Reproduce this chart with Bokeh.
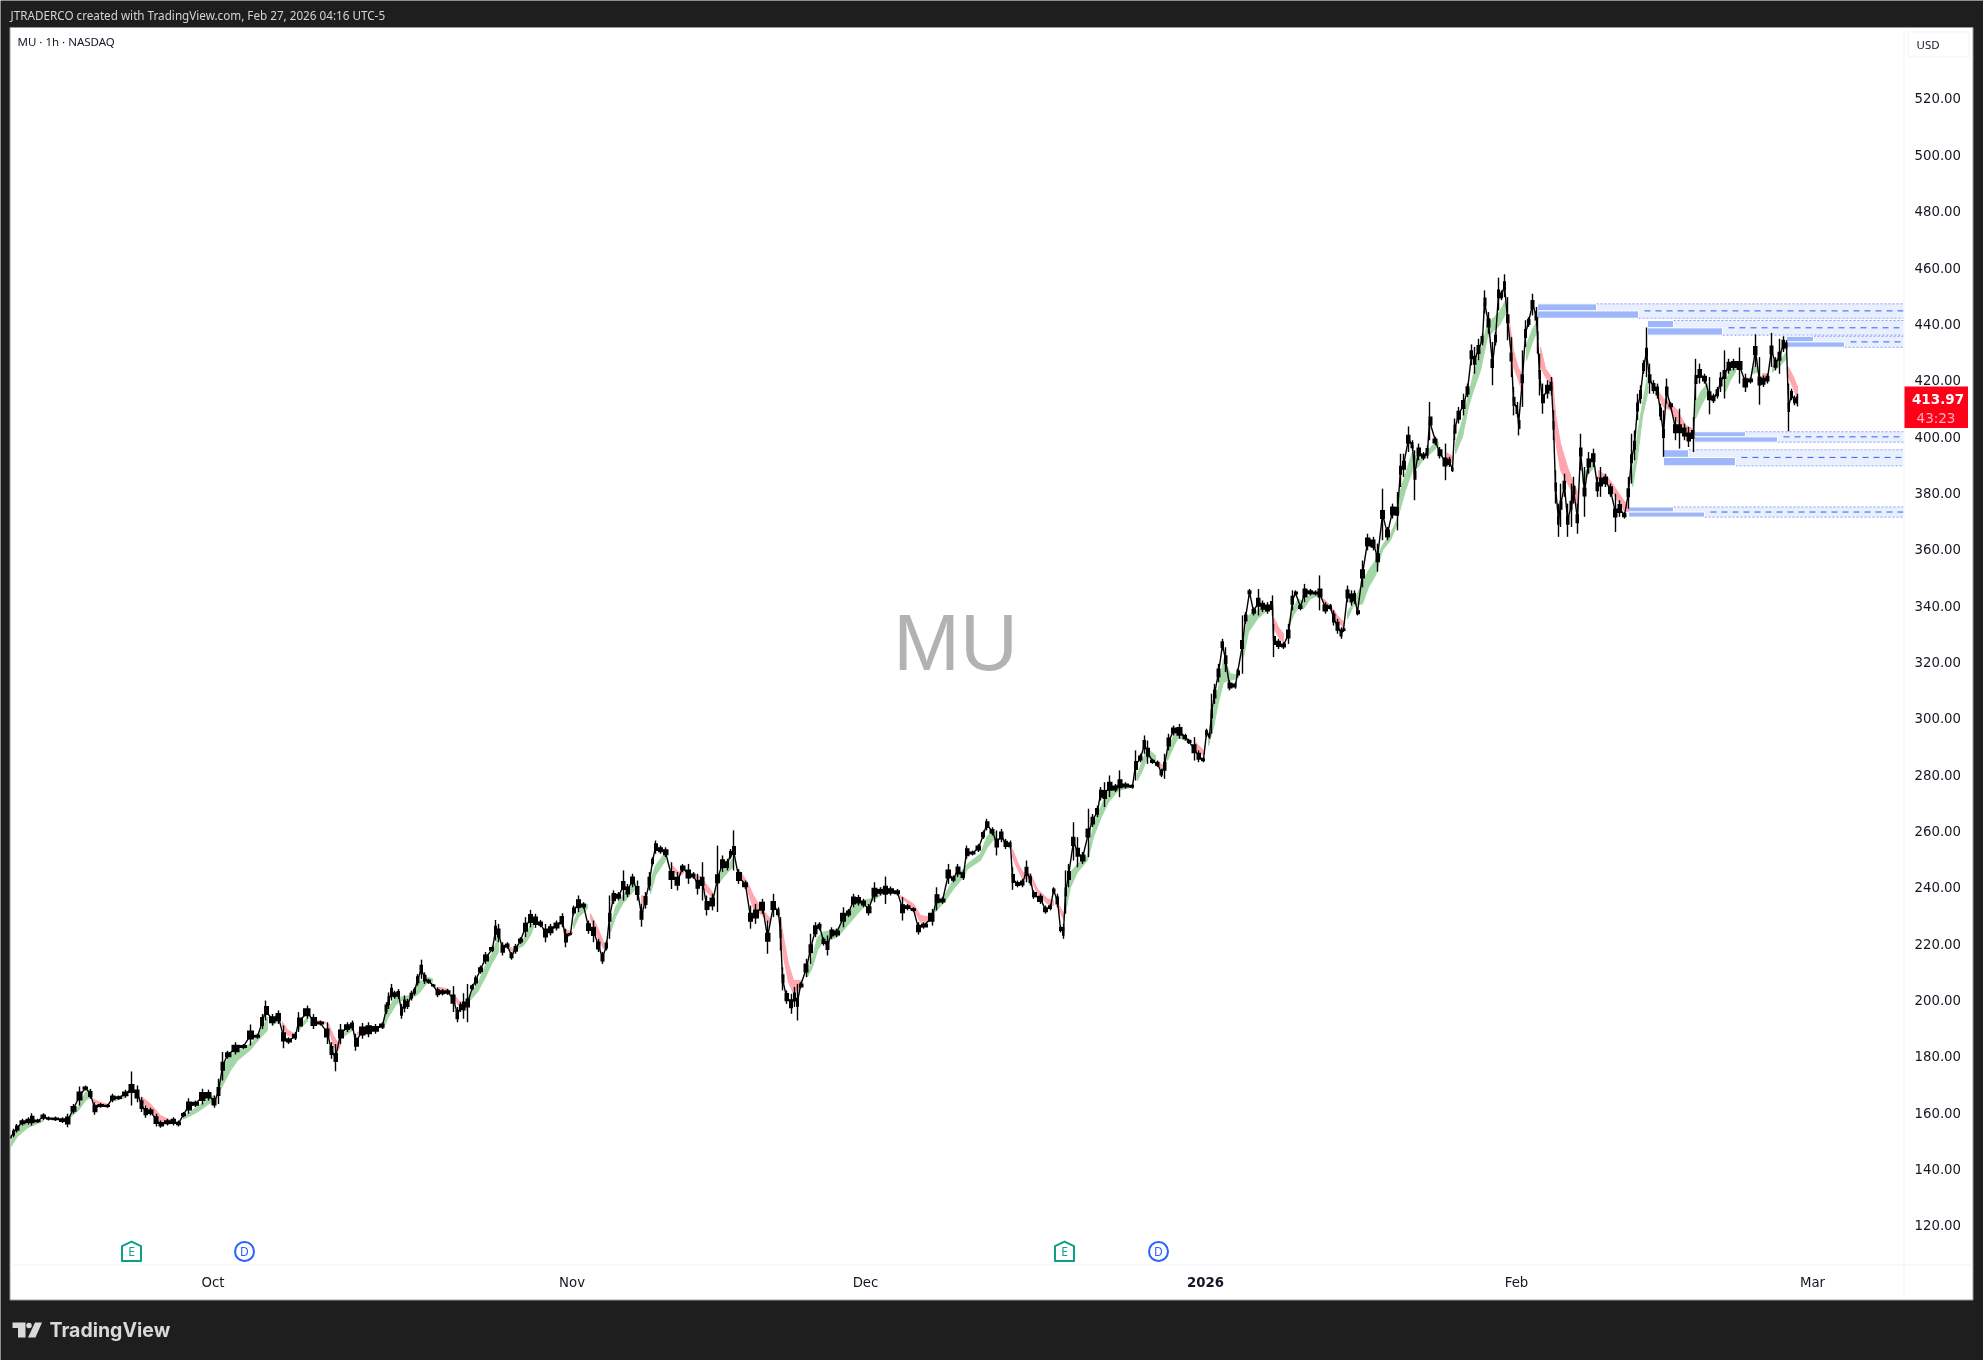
from bokeh.embed import file_html
from bokeh.resources import INLINE
from bokeh.plotting import figure
from bokeh.core.properties import value
from bokeh.models import FixedTicker, NumeralTickFormatter, Range1d

# ---- hourly session index / price envelope ----
bar = [0,3,6,12,18,21,27,33,38,45,52,57,63,69,75,80,84,90,97,102,108,115,121,127,131,135,140,146,150,157,163,168,173,178,185,192,198,204,208,212,217,225,233,240,247,252,255,262,268,273,278,285,288,297,303,310,317,321,325,330,337,342,345,352,358,365,372,
376,378,381,384,388,391,394,397,401,404,407,411,414,418,423,427,432,437,
443,447,450,453,457,462,465,470,475,482,485,488,492,497,501,505,510,515,520,525,530,535,540,546,552,555,560,563,568,573,578,583,588,592,596,599,603,608,613,617,622,627,631,635,639,642,645,650,655,661,667,672,678,683,687,692,696,702,707,712,717,720,723,728,735,740,745,752,757,
763,768,770,772,776,781,784,787,790,796,800,805,809,813,817,821,826,833,838,843,848,853,858,864,870,875,880,887,892,897,903,908,913,922,926,932,938,943,947,953,956,962,968,973,976,982,986,991,995,1000,1002,1007,1012,1016,1020,1023,1030,1035,1040,1043,1047,1050,1053,1055,1058,1063,1067,1072,1078,1082,1087,
1090,1094,1099,1105,1109,1115,1122,1125,1130,1134,1137,1142,1147,1151,1154,1158,1163,1169,1175,1178,1184,1188,1193,1196,1199,1201,1204,1208,1212,1215,1219,1225,1227,1232,1235,1239,1243,1248,1252,1257,1262,1263,1268,1273,1278,1282,1285,1290,1294,1300,1305,1309,1315,1320,1323,1327,1331,1333,1337,1341,1344,1347,1352,1357,1363,1367,
1372,1377,1382,1387,1390,1393,1398,1402,1404,1408,1413,1417,1419,1425,1429,1435,1439,1442,1444,1448,1453,1457,1461,1464,1468,1472,1474,1478,1482,1485,1488,1491,1494,1497,1501,1503,1507,1508,1512,1515,1518,1522,1526,1527,1529,1532,1537,1541,1543,1545,1548,1550,1554,1557,1561,1563,1567,1570,1574,1578,1583,1587,
1590,1595,1600,1605,1609,1614,1618,1621,1624,1627,1630,1633,1636,1639,1643,1647,1650,1653,1656,1660,1665,1669,1674,1678,1683,1685,1689,1694,1699,1703,1707,1710,1714,1718,1723,1729,1735,1740,1745,1749,1753,1757,1761,1765,1769,1773,1776,1778,1781,1784,1787]
high = [151.9,154.3,156,157.8,158.4,159.8,157.8,159.8,158.6,158.6,158.4,159.6,163.1,169.3,169.6,168.4,163.7,163.4,163.1,166.7,166.1,168.1,174.6,169.6,165.5,162.5,161.7,159.6,157.2,157.8,158.4,157.2,160.2,165.1,164.3,168.5,168.1,166.1,172,181.5,182,185,184.4,191.3,188,195,199.8,195,196.3,190.9,186.8,188.6,195.7,198,195,192.7,192.1,185,184.4,191.5,192.1,192.7,188,191.8,192.1,191.5,192.1,
199.2,202.7,205.7,203.3,203.9,198.6,201.6,200.4,203.3,204.5,209.2,214.3,209.8,207.5,205.7,204.5,203.9,203.9,
204.9,197.5,199.2,202.4,205.7,205.7,208.7,212.2,217,219.3,228.4,227,220.5,220.5,217,219.9,222.3,229.4,232,230.6,228.4,227,227,228.2,230.8,225.3,224,233.5,237.1,234.7,228.2,228.2,221.7,217,221.1,237.1,238.9,238.3,246,241.2,244.8,242.4,234.1,238.3,245.4,250.7,256.6,254.8,254.2,248.9,245.4,248.3,248.3,245.4,244.8,248.9,237.1,237.7,254.8,251.3,250.1,253.6,260.2,246.5,242.4,233.5,234.1,235.9,228.2,
237.7,232.9,229.4,211.6,203.4,202.2,204.6,205.7,206.3,214.6,223.5,227.6,227.6,222.3,222.9,225.8,225.3,232.9,232.3,237.7,237.3,235.9,234.1,241.8,240,243.8,240.3,239.4,236.5,234.1,232.9,227.6,227.6,232.3,240,236.5,248.3,244.2,248.3,246,254.8,253,255.4,260.2,264.3,261.3,260.2,260.7,257.2,256.6,247.1,242.4,243,249.5,244.8,238.9,237.7,233.5,234.1,240,237.7,226.4,227,246,248.3,263.1,257.8,252.5,267.9,266,269,
275.6,277.3,279.7,276.7,281.5,277.3,276.7,288.6,287.4,293.9,292.1,285.6,285,282.1,287.4,294.5,297.4,298,294.5,292.7,293.3,288.6,286.2,296.3,295.1,308.7,312.2,319.3,328.2,325.2,313.4,312.8,317.6,336.5,337.7,345.9,339.4,345.9,341.8,341.2,343.6,333.5,328.2,327,333.5,345.4,345.4,340.6,347.7,345.9,345.4,350.7,341.2,340.6,338.3,335.3,332.3,332.3,347.1,345.4,345.4,338.8,356,365.5,364.4,362,
381.5,367.9,376.2,380.3,393.9,393.9,403.6,398.7,395.1,397.5,394.5,396.9,412.3,399.9,396.3,397.5,392.8,389.2,406.4,410.5,415.2,418.8,432.7,431.8,434.7,436.5,451.9,444.2,433.6,437.1,456.4,451.9,457.6,449.5,435.3,417.6,412.3,408.1,430.6,441.3,442.4,450.7,446,442.4,429.4,418.8,420,421.1,409.3,388,376.2,383.3,386.8,376.2,383.3,385.7,376.2,401,389.2,394.5,395.7,385.7,
389.2,386.8,383.3,379.7,377.4,373.2,385.7,401,402.2,415.2,418.2,427.1,438.7,425.9,420,418.8,411.7,409.3,420.6,412.3,406.9,409.9,404.6,403.4,406.9,427.6,425.9,422.3,421.1,415.2,417.6,422.9,430.6,427.6,427.6,431.6,422.3,421.1,436.3,428.2,421.7,422.3,436.8,428.2,434.7,435.6,434.2,418.8,417,414.6,415.2]
low = [150.7,151.3,153,155.4,155.8,155.4,156.3,157.4,157.2,157,156.3,154.8,159.6,162.5,167.9,164.9,159.3,161.7,161.7,163.7,164.5,165.3,162.5,163.7,160.2,158.2,159,155.1,154.6,155.4,155.4,155.1,158.4,159.6,162,162.9,164.3,161.7,163.1,171.4,179.1,180.6,182.6,183.8,186.2,189.7,192.7,190.9,191.5,182.9,184.4,185.8,188.6,193.3,189.7,190.9,184.4,179.1,174.7,184.4,188.6,189.2,182,186.2,186.8,188,189.7,
195,196.8,199.8,200.4,200.4,193.3,195.6,196.8,199.8,201.6,205.1,207.5,205.7,205.7,204.5,201,201.6,201.8,
195.7,192.1,195.7,193.3,192.1,203.4,205.1,209.3,212.8,217,221.1,220.5,215.8,218.2,214.3,216.4,219.9,222.3,225.8,225.6,225.8,220.5,222.9,224.7,225.8,218.7,222.9,230,231.2,232.4,223.5,220.5,217,212.8,217.6,221.7,234.1,235.3,235.3,236.5,240,235.3,226,232.4,238.9,247.7,251.9,251.9,250.7,239.4,238.9,245.4,241.2,243,237.4,235.3,230,231.8,231.2,245.4,246,250.1,246,241.2,239.4,225.3,227,230.6,216.4,
229.4,229.4,217.6,203.4,198.6,195.1,197.5,192.7,204,208.1,212.8,222.3,224.7,219.3,215.8,221.7,222.3,225.8,229.4,232.9,233.5,232.9,230,234.7,237.1,234.1,237.1,237.1,228.2,231.8,231.2,223.2,225.3,226.4,231.8,234.1,241.2,241.8,243.6,242.6,250.1,251.3,252.5,257.2,260.2,258.4,251.3,256,253.6,253.6,239.1,240,240,241.8,240.6,235.9,234.1,230.6,231.8,237.7,232.9,224,221.7,230.6,240,249.5,247.1,248.3,250.7,261.4,264.9,
270.8,268.5,272,273.8,272,275,275,277.9,284.4,287.4,283.8,283.8,282.7,279.1,278.5,288.6,293.9,292.7,292.1,290.9,285,284.4,284.4,293.3,292.7,294.5,305.1,312.8,324.1,316.4,309.9,310.5,314.6,315.8,333.5,343.6,336.5,336.5,337.7,337.1,336.5,321.7,324.6,324.6,326.4,338.3,343.6,338.3,341.2,343.6,343.6,338.3,337.1,338.3,332.9,330,328.2,330.6,341.2,340,340.6,336.5,346.5,359.6,359.6,352,
363.2,363.2,370.9,366.7,382.1,385.7,394.5,395.1,377.4,391.6,391.6,392.2,398.7,396.9,392.2,384.5,389.2,387.4,398.7,404.6,407.5,414,425.3,422.3,427.1,432.4,443.6,436.5,418.2,432.4,444.8,448.4,449.5,434.2,421.1,407.5,406.9,400.4,410.5,431.8,438.9,443,439.5,429.4,414.6,408.1,413.5,414.6,398.7,376.2,364.4,367.9,378.6,364.4,367.9,376.2,365.5,388,371.5,386.8,389.2,378.6,
378.6,382.1,378.6,366.1,371.5,370.9,374.4,383.3,391.6,405.8,411.7,422.3,421.1,415.2,415.2,413.5,405.8,392.8,411.7,409.9,398.7,395.7,398.7,396.3,394.5,412.9,418.8,418.8,407.9,411.9,413.5,415.8,413.5,422.3,423.5,418.8,415.8,418.8,424.7,411.3,417.6,418.8,424.7,423.5,422.3,430,430.6,401.9,412.9,411.1,410.7]

# ---- EMA ribbon: (bars, upper edge, lower edge) per stretch ----
green_ribbon = [
 ([0,7,17,33],[149.5,154.8,156.6,157.4],[147.7,151.5,154.6,157]),
 ([58,68,75,80],[158.4,162.2,167.3,168.4],[157.8,160.8,164.3,165.5]),
 ([105,115],[165.3,166.3],[164.3,165.3]),
 ([173,187,203],[158.4,162.2,166.1],[157.7,160.2,164.3]),
 ([208,213,220,227,240,248,257],[168.5,176.7,180.3,182,184.4,187.4,193.9],[166.7,170.2,175,178.5,182.3,185.8,189.2]),
 ([262,268],[192.1,193.9],[190.9,192.5]),
 ([288,297],[190.3,193.9],[189.2,192.5]),
 ([333,342],[188,191.3],[187,189.2]),
 ([373,377,385,390,400,408,417,422],[192.1,196.8,201,201,201.6,206.3,208.1,207.5],[189.7,193.3,198,199.8,200.4,202.1,206.3,206.3]),
 ([458,467,475,482,488],[201,205.7,212.2,217,222.9],[199.2,202.8,208.1,213.4,217]),
 ([507,513,520,523],[218.9,221.7,226.4,227.6],[218.2,219.3,222.9,225.8]),
 ([563,568,577],[227.6,231.8,234.1],[225.3,229.4,232.4]),
 ([600,605,612,625],[225.8,232.9,237.1,241.8],[224,229.4,234.1,239.4]),
 ([640,645,655],[242.4,247.7,252.5],[237.7,244.2,249.5]),
 ([708,713,722],[244.2,246,250.1],[241.2,243.6,247.1]),
 ([797,802,807,812,827,837,847,855,860,870,880],[209.3,215.2,222.3,224,225.3,230.6,234.7,235.5,235.9,240,239.4],[208.1,211.6,217.6,220.5,222.3,226.4,230.6,233.5,234.7,237.1,238.9]),
 ([925,935,943,953,957,970,977,985],[233.5,237.7,243,246.5,248.3,251.9,258.4,259.6],[231.2,235.3,239.4,243.6,246.5,249.5,254.2,257.8]),
 ([1056,1060,1067,1077,1083,1090,1098,1108,1122],[236.5,245.4,248.3,251.3,262.5,268.5,274.4,275.6,276.1],[233,240,245.4,249.5,257.8,264.3,270.2,274.4,275.6]),
 ([1127,1132,1137,1145],[280.3,285,289.2,286.8],[277.9,281.5,286.2,285]),
 ([1157,1163,1168,1178],[288,293.9,295.1,292.7],[285,289.8,293.3,291.5]),
 ([1198,1203,1208,1213,1220,1228],[292.1,302.8,311,321.1,315.8,315.2],[290.3,296.8,305.7,312.8,313.4,314.4]),
 ([1233,1238,1247,1257],[327.6,336.5,338.3,340],[321.7,330.6,335.3,338.3]),
 ([1278,1283,1288,1293,1300,1308],[334.1,339.4,342.4,341.2,344.2,344.8],[332.3,336.5,339.4,338.8,342.4,343.6]),
 ([1337,1343,1352,1358,1365,1372,1380,1387],[337.7,341.2,348.3,352.5,356,361.4,365.5,370.9],[335.3,340,340.6,346.5,350.7,359.6,363.2,369.1]),
 ([1388,1395,1402,1408,1413,1422,1428],[378.6,386.8,394.5,391.6,393.3,396.9,398],[372,380.9,388,389.2,392.2,394.5,396.9]),
 ([1445,1452,1458,1463,1470,1477,1489,1495],[397.5,405.8,414.6,422.3,430,440,444.2,448.4],[393.9,399.9,410.5,416.4,423.5,435.3,439.5,443.6]),
 ([1516,1522,1527],[432.4,438.3,440.7],[427,433.6,437.7]),
 ([1572,1578,1584],[385.7,389.2,392.2],[383.3,386.8,389.2]),
 ([1622,1627,1632,1637],[385.7,401,411.7,421.1],[382.1,392.8,407,415.2]),
 ([1685,1690,1697],[411.7,415.8,418.8],[406.4,410.5,415.2]),
 ([1715,1720,1725],[419.4,423.5,425.3],[415.8,420,422.9]),
 ([1742,1747],[424.7,424.7],[422.3,422.9]),
 ([1762,1770,1776],[425.3,427.1,430],[422.9,425.3,427.6]),
]
red_ribbon = [
 ([82,90,98],[164.9,163.7,162.9],[164.3,162.5,161.7]),
 ([131,140,150,160],[165.7,163.1,159,157.2],[164.3,160.2,156.6,156.3]),
 ([272,277,283],[192.1,189.4,188.2],[190.9,187.4,187]),
 ([307,315],[192.7,192.1],[192.1,191.5]),
 ([318,323,327,330],[191.5,187.4,185,185.6],[189.7,183.8,181.8,183.8]),
 ([347,357],[188.6,188.6],[187.6,188]),
 ([428,438],[204.5,203.9],[202.7,202.7]),
 ([443,448,457],[202.2,199.8,198],[201,198,196.3]),
 ([500,503],[218.7,218],[217.6,217.2]),
 ([553,562],[225.3,224],[223.5,223.5]),
 ([580,587,593],[230.6,225.8,220.5],[228.8,222.3,218.2]),
 ([631,637],[237.1,236.5],[234.1,234.7]),
 ([662,668,673],[247.7,245.4,246],[246.5,243.6,245]),
 ([686,690],[244.2,243.8],[243,242.8]),
 ([693,703],[242.4,237.7],[239.4,235.9]),
 ([728,737,743,750,760],[246.5,241.8,237.1,232.9,228.8],[245.4,238.9,232.4,230.6,227]),
 ([770,773,778,783,792],[228.8,222.3,212.8,206.9,206.9],[225.8,215.2,206.3,202.2,205.1]),
 ([890,903,910,920],[237.1,234.1,230,229.4],[236.5,232.3,227.6,228]),
 ([1002,1007,1012,1020,1027,1037,1043],[253.6,248.9,245.4,244.8,239.4,235.9,235.3],[250.7,246.5,243,243,237.7,234.1,233.5]),
 ([1048,1053],[234.1,230.6],[232.3,228.5]),
 ([1149,1153],[284.4,283],[282.7,282]),
 ([1185,1193],[291.5,288.6],[289,286.8]),
 ([1263,1268,1273],[335.9,332.3,330],[332.3,328.8,327]),
 ([1313,1320,1327,1333],[342.4,340,336.5,334.1],[340.6,338.8,334.1,332.3]),
 ([1435,1442],[394.5,393],[393,390.4]),
 ([1498,1503,1508,1512],[443,430.6,424.1,422.3],[438.9,424.7,420,415.2]),
 ([1530,1535,1542,1545,1550,1557,1563,1567],[431.8,424.1,420.6,408.1,397.5,389.2,383.3,380.3],[424.7,421.1,417.6,398.7,388,383.3,379.7,375]),
 ([1588,1597,1603,1613,1618],[388,385.7,382.7,377.4,375.6],[385,382.7,379.7,373.8,373.2]),
 ([1647,1653,1660,1667,1675,1682],[416.4,413.5,411.7,409.3,404,402.8],[415.8,410.5,409.3,405.2,399.9,401]),
 ([1733,1738],[421.1,420.6],[419.4,419.4]),
 ([1752,1757],[422.3,422.3],[420.6,420.6]),
 ([1778,1783,1787],[424.7,421.1,417.6],[421.1,417,413.5]),
]

# ---- order-block zones ----
zone_top = [447.1,441.2,435.6,401.7,395.3,375.0]
zone_mid = [444.6,438.6,433.6,399.9,392.6,373.2]
zone_bottom = [442.0,436.0,431.7,398.0,389.6,371.4]
zone_start = [1527,1637,1776,1684,1653,1618]
zone_upper_end = [1586,1663,1803,1735,1678,1663]
zone_lower_end = [1628,1712,1834,1767,1725,1694]

# ---- axes ----
price_ticks = [120,140,160,180,200,220,240,260,280,300,320,340,360,380,400,420,440,460,480,500,520]
month_bars = [202.5,561.6,855,1506,1802]
month_names = ["Oct","Nov","Dec","Feb","Mar"]
year_bar = 1195
year_name = "2026"
earnings_bars = [121,1054]
dividend_bars = [234,1148]
last_price = "413.97"
countdown = "43:23"

W, H = 1983, 1360
L, T, R, B = 10, 27, 1903, 1264
DARK = "#1e1e1e"
FONT = "DejaVu Sans"

def placed(left, top):
    return {"position": "fixed", "left": f"{left}px", "top": f"{top}px"}

# ---------- page chrome: pixel-scale backdrop ----------
bg = figure(width=W, height=H, output_backend="svg", toolbar_location=None,
            x_range=Range1d(0, W), y_range=Range1d(H, 0), x_axis_type=None, y_axis_type=None,
            min_border=0, outline_line_color=None, border_fill_color=DARK, background_fill_color=DARK)
bg.styles = placed(0, 0)
bg.grid.visible = False
bg.quad(left=[L - 0.5], right=[1972.5], top=[T], bottom=[1299.5], fill_color="#ffffff", line_color="#9a9a9a", line_width=1)
bg.quad(left=[R], right=[R + 1], top=[T + 1], bottom=[1299], fill_color="#f0f3fa", line_color=None)
bg.quad(left=[L], right=[1972], top=[B], bottom=[B + 1], fill_color="#f0f3fa", line_color=None)
bg.quad(left=[1907.5], right=[1968.5], top=[31.5], bottom=[56.5], fill_color="#ffffff", line_color="#f0f3fa", line_width=1)

def chrome_text(x, y, text, color, size, font, style="normal", align="left"):
    bg.text([x], [y], text=[text], text_color=color, text_font=value(font), text_font_size=f"{size}px",
            text_font_style=style, text_align=align, text_baseline="middle")

chrome_text(10, 14, "JTRADERCO created with TradingView.com, Feb 27, 2026 04:16 UTC-5", "#d4d4d4", 11.7, "Noto Sans")
chrome_text(17, 41, "MU \u00b7 1h \u00b7 NASDAQ", "#131722", 11.5, "Noto Sans")
chrome_text(1916, 44, "USD", "#131722", 11.5, "Noto Sans")
chrome_text(955, 642, "MU", "#b2b2b2", 80, "Liberation Sans", align="center")
chrome_text(49, 1329, "TradingView", "#d9d9d9", 19.5, "Inter", style="bold")
chrome_text(L + year_bar, 1281, year_name, "#131722", 13.3, FONT, style="bold", align="center")
# TradingView mark
bg.patch([12, 25, 25, 17.5, 17.5, 12], [1322, 1322, 1337, 1337, 1327.5, 1327.5], fill_color="#d9d9d9", line_color=None)
bg.patch([34.5, 41.5, 35, 27.5], [1322, 1322, 1337, 1337], fill_color="#d9d9d9", line_color=None)
bg.scatter([28.5], [1325], marker="circle", size=5.5, fill_color="#d9d9d9", line_color=None)

# ---------- the chart: transparent, on top of the backdrop ----------
p = figure(width=W, height=H, output_backend="svg", toolbar_location=None,
           x_range=Range1d(0, R - L), y_range=Range1d(106.1, 545.2), y_axis_location="right",
           min_border_left=L, min_border_top=T, min_border_right=W - R, min_border_bottom=H - B,
           border_fill_color=None, background_fill_color=None, outline_line_color=None)
p.styles = placed(0, 0)
p.grid.visible = False

ya = p.yaxis[0]
ya.ticker = FixedTicker(ticks=price_ticks)
ya.formatter = NumeralTickFormatter(format="0.00")
ya.axis_line_color = None
ya.major_tick_line_color = None
ya.minor_tick_line_color = None
ya.major_tick_out = 0
ya.major_label_standoff = 11
ya.major_label_text_font = FONT
ya.major_label_text_font_size = "13.3px"
ya.major_label_text_color = "#131722"
xa = p.xaxis[0]
xa.ticker = FixedTicker(ticks=month_bars)
xa.major_label_overrides = dict(zip(month_bars, month_names))
xa.axis_line_color = None
xa.major_tick_line_color = None
xa.minor_tick_line_color = None
xa.major_label_standoff = 4
xa.major_label_text_font = FONT
xa.major_label_text_font_size = "13.3px"
xa.major_label_text_color = "#131722"

# zones
for t, m, b, s, ue, le in zip(zone_top, zone_mid, zone_bottom, zone_start, zone_upper_end, zone_lower_end):
    p.quad(left=[ue], right=[R - L], top=[t], bottom=[m], fill_color="#e9effd", line_color=None)
    p.quad(left=[le], right=[R - L], top=[m], bottom=[b], fill_color="#e9effd", line_color=None)
    p.line([ue, R - L], [t, t], line_color="#7f9ff7", line_width=1, line_dash="2 2")
    p.line([le, R - L], [b, b], line_color="#7f9ff7", line_width=1, line_dash="2 2")
    p.line([le + 6, R - L], [m, m], line_color="#2962ff", line_width=1, line_dash="6 5")
    p.quad(left=[s], right=[ue], top=[t], bottom=[m], fill_color="#9db7fa", line_color="#ffffff", line_width=1)
    p.quad(left=[s], right=[le], top=[m], bottom=[b], fill_color="#9db7fa", line_color="#ffffff", line_width=1)

# ribbons
for sections, color in ((green_ribbon, "#a3d6a5"), (red_ribbon, "#ffa6ae")):
    xs = [list(s[0]) + list(s[0])[::-1] for s in sections]
    ys = [list(s[1]) + list(s[2])[::-1] for s in sections]
    p.patches(xs, ys, fill_color=color, line_color=color, line_width=1)

# price: wicks over a stepped body band, joined by a thin path
mid = [(h + l) / 2 for h, l in zip(high, low)]
half = [min((h - l) * 0.3, 1.6) for h, l in zip(high, low)]
p.varea_step(x=bar, y1=[m - d for m, d in zip(mid, half)], y2=[m + d for m, d in zip(mid, half)],
             step_mode="center", fill_color="#000000")
p.line(bar, mid, line_color="#000000", line_width=1.4)
p.segment(bar, low, bar, high, line_color="#000000", line_width=1.4)

# event markers
ICON_PRICE = 110.7
PX = 2.817
hx = [[x - 9.5, x - 9.5, x, x + 9.5, x + 9.5] for x in earnings_bars]
hy = [[ICON_PRICE - 9.5 / PX, ICON_PRICE + 5.5 / PX, ICON_PRICE + 10 / PX, ICON_PRICE + 5.5 / PX, ICON_PRICE - 9.5 / PX] for _ in earnings_bars]
p.patches(hx, hy, fill_color="#ffffff", line_color="#0d9f8a", line_width=2, line_join="round")
p.scatter(dividend_bars, [ICON_PRICE] * len(dividend_bars), marker="circle", size=19, fill_color="#ffffff", line_color="#2962ff", line_width=2)
p.text(earnings_bars, [ICON_PRICE] * 2, text=["E"] * 2, text_color="#0d9f8a", text_align="center", text_baseline="middle",
       text_font=value("Noto Sans"), text_font_size="12px")
p.text(dividend_bars, [ICON_PRICE] * 2, text=["D"] * 2, text_color="#2962ff", text_align="center", text_baseline="middle",
       text_font=value("Noto Sans"), text_font_size="12px")

# ---------- last-price tag, over the axis labels ----------
tag = figure(width=64, height=42, output_backend="svg", toolbar_location=None,
             x_range=Range1d(0, 64), y_range=Range1d(42, 0), x_axis_type=None, y_axis_type=None,
             min_border=0, outline_line_color=None, border_fill_color="#ff0019", background_fill_color="#ff0019")
tag.styles = placed(1904, 386)
tag.grid.visible = False
tag.text([33.5], [12], text=[last_price], text_color="#ffffff", text_align="center", text_baseline="middle",
         text_font=value(FONT), text_font_size="13.5px", text_font_style="bold")
tag.text([31.5], [31], text=[countdown], text_color="#ffb3ba", text_align="center", text_baseline="middle",
         text_font=value(FONT), text_font_size="13.5px")

open("out.html", "w").write(file_html([bg, p, tag], INLINE))
